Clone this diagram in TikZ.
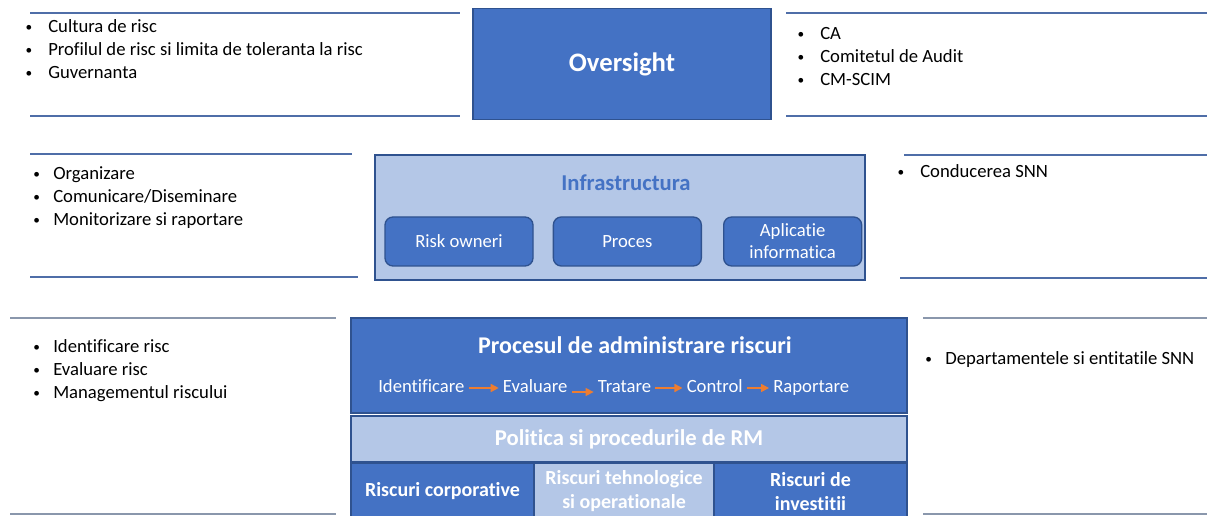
\documentclass[tikz,border=0pt]{standalone}
\usepackage{fontspec}
\setmainfont{Carlito}[Ligatures=NoCommon]
\usetikzlibrary{positioning,arrows.meta}
\definecolor{MainBlue}{HTML}{4472C4}
\definecolor{EdgeBlue}{HTML}{2F528F}
\definecolor{PaleBlue}{HTML}{B4C7E7}
\definecolor{FlowOrange}{HTML}{ED7D31}
\definecolor{RuleBlue}{HTML}{4F6EA8}
\definecolor{RuleGrey}{HTML}{8A97AC}
\newcommand{\bul}[1][17pt]{\llap{\makebox[#1][l]{\raisebox{0.6pt}{\fontsize{10}{12}\selectfont •}}}}

\begin{document}
\begin{tikzpicture}[
      x=0.75pt, y=-0.75pt,
      every node/.style={font=\fontsize{14}{16.5}\selectfont},
      block/.style={draw=EdgeBlue, line width=1pt, fill=MainBlue, text=white, align=center, inner sep=0pt},
      paleblock/.style={block, fill=PaleBlue},
      subbox/.style={block, rounded corners=6pt, minimum height=36.75pt},
      heading/.style={font=\bfseries\fontsize{17}{20}\selectfont},
      riskbox/.style={font=\bfseries\fontsize{15}{18}\selectfont, minimum height=42.75pt},
      item/.style={anchor=west, inner sep=0pt, text height=12.5pt, text depth=4.4pt},
      step word/.style={text=white, inner sep=3pt, text height=10pt, text depth=3pt},
      rule/.style={draw=RuleBlue, line width=0.8pt},
      flow/.style={-{Triangle[length=6pt,width=6pt]}, draw=FlowOrange, line width=1.1pt}
    ]
    \useasboundingbox (0,0) rectangle (1207,516);
    \clip (0,0) rectangle (1207,516);

    % oversight level
    \draw[rule] (30,13) -- (460,13) (30,116) -- (460,116);
    \draw[rule] (786,13) -- (1207,13) (786,116) -- (1207,116);
    \node[block, minimum width=223.5pt, minimum height=83.25pt, font=\bfseries\fontsize{20}{24}\selectfont] (oversight) at (622,64) {Oversight};
    \node[item] (gov1) at (48,27) {\bul Cultura de risc};
    \node[item, below right=0pt and 0pt of gov1.south west] (gov2) {\bul Profilul de risc si limita de toleranta la risc};
    \node[item, below right=0pt and 0pt of gov2.south west] (gov3) {\bul Guvernanta};
    \node[item] (board1) at (820,34) {\bul CA};
    \node[item, below right=0pt and 0pt of board1.south west] (board2) {\bul Comitetul de Audit};
    \node[item, below right=0pt and 0pt of board2.south west] (board3) {\bul CM-SCIM};

    % infrastructure level
    \draw[rule] (30,154) -- (352,154) (30,277) -- (358,277);
    \draw[rule] (904,155) -- (1207,155) (900,278) -- (1207,278);
    \node[paleblock, minimum width=367.5pt, minimum height=93.75pt] (infra) at (620,217.5) {};
    \node[heading, text=MainBlue] (infratitle) at (626,183) {Infrastructura};
    \node[subbox, minimum width=111pt] (owners) at (459,241.5) {Risk owneri};
    \node[subbox, minimum width=111pt, right=14.25pt of owners] (proces) {Proces};
    \node[subbox, minimum width=103.5pt, right=15.75pt of proces] (app) {Aplicatie\\informatica};
    \node[item] (org1) at (53,174) {\bul[15pt]Organizare};
    \node[item, below right=0pt and 0pt of org1.south west] (org2) {\bul[15pt]Comunicare/Diseminare};
    \node[item, below right=0pt and 0pt of org2.south west] (org3) {\bul[15pt]Monitorizare si raportare};
    \node[item] (mgmt) at (920,172) {\bul Conducerea SNN};

    % process level
    \draw[rule, draw=RuleGrey] (10,318) -- (336,318) (10,514) -- (336,514);
    \draw[rule, draw=RuleGrey] (923,318) -- (1207,318) (923,514) -- (1207,514);
    \node[block, minimum width=417pt, minimum height=71.25pt] (proc) at (629,365.5) {};
    \node[text=white, font=\bfseries\fontsize{18}{21}\selectfont] (proctitle) at (635,345) {Procesul de administrare riscuri};
    \node[step word, anchor=west] (ident) at (374,388) {Identificare};
    \node[step word, right=22.5pt of ident] (eval) {Evaluare};
    \node[step word, right=16.5pt of eval] (trat) {Tratare};
    \node[step word, right=20.25pt of trat] (ctrl) {Control};
    \node[step word, right=16.5pt of ctrl] (rap) {Raportare};
    \draw[flow] (ident) -- (eval);
    \draw[flow] ([yshift=-3pt]eval.east) -- ([yshift=-3pt]trat.west);
    \draw[flow] (trat) -- (ctrl);
    \draw[flow] (ctrl) -- (rap);
    \node[paleblock, heading, text=white, minimum width=417pt, minimum height=34.5pt] (policy) at (629,439) {Politica si procedurile de RM};
    \node[block, riskbox, minimum width=137.25pt] (corp) at (442.5,491.5) {Riscuri corporative};
    \node[paleblock, riskbox, minimum width=135pt] (tech) at (624,491.5) {Riscuri tehnologice\\si operationale};
    \node[block, riskbox, minimum width=144.75pt] (invest) at (810.5,491.5) {Riscuri de\\investitii};
    \node[item] (risk1) at (53,347) {\bul[15pt]Identificare risc};
    \node[item, below right=0pt and 0pt of risk1.south west] (risk2) {\bul[15pt]Evaluare risc};
    \node[item, below right=0pt and 0pt of risk2.south west] (risk3) {\bul[15pt]Managementul riscului};
    \node[item] (depts) at (945,359) {\bul[15pt]Departamentele si entitatile SNN};
  \end{tikzpicture}
\end{document}
